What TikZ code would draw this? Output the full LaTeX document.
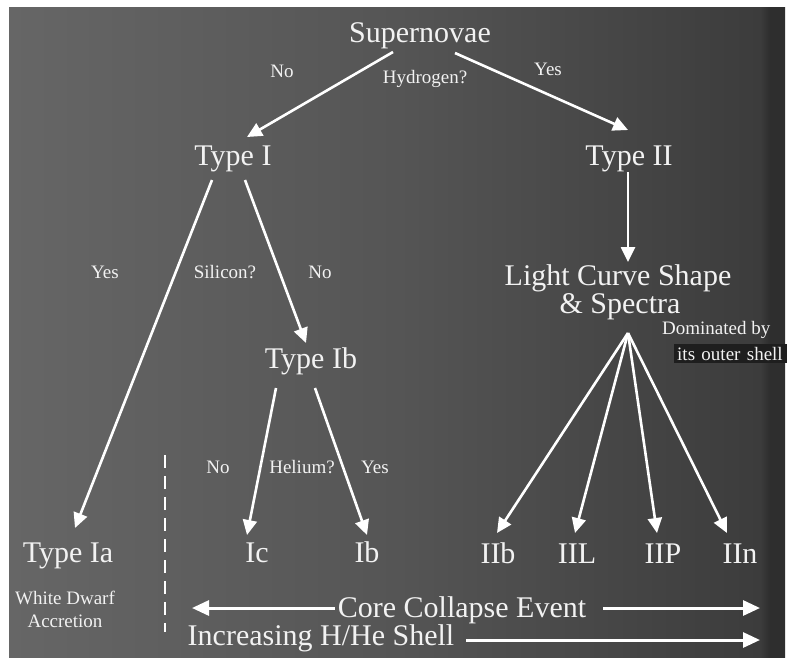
\documentclass[tikz,border=0pt]{standalone}
\usepackage{fontspec}
\setmainfont{Liberation Serif}
\usetikzlibrary{arrows.meta,calc}
\definecolor{bgA}{HTML}{666666}
\definecolor{bgB}{HTML}{555555}
\definecolor{bgC}{HTML}{3C3C3C}
\definecolor{bgD}{HTML}{2E2E2E}
\definecolor{txt}{HTML}{F2F2F2}
\definecolor{boxbg}{HTML}{1E1E1E}
\pgfdeclarehorizontalshading{bgshade}{100bp}{color(0bp)=(bgA); color(25bp)=(bgA); color(50bp)=(bgB); color(73.4bp)=(bgC); color(74bp)=(bgD); color(100bp)=(bgD)}
\begin{document}
\begin{tikzpicture}[x=1pt,y=-1pt,
  lbl/.style={text=txt, inner sep=0pt, font=\fontsize{30}{32}\selectfont, anchor=base},
  sml/.style={text=txt, inner sep=0pt, font=\fontsize{19}{21}\selectfont, anchor=base},
  arr/.style={draw=white, line width=2.6pt, -{Triangle[length=15pt,width=14pt]}},
  bigarr/.style={draw=white, line width=3pt, -{Triangle[length=17pt,width=15pt]}},
  divider/.style={draw=white, line width=2.4pt, dash pattern=on 13pt off 8pt}]
\useasboundingbox (0,0) rectangle (787,657);
\fill[white] (0,0) rectangle (787,657);
\shade[shading=bgshade] (9,7) rectangle (785,657);

% main labels
\node[lbl] (sn) at (420,42) {Supernovae};
\node[lbl] (t1) at (233,165) {Type I};
\node[lbl] (t2) at (629,165) {Type II};
\node[lbl] (lc1) at (618,285) {Light Curve Shape};
\node[lbl] (lc2) at (620,313) {\& Spectra};
\node[lbl] (tIb) at (311,368) {Type Ib};
\node[lbl] (tIa) at (68,562) {Type Ia};
\node[lbl] (Ic) at (257,562) {Ic};
\node[lbl] (Ib) at (367,562) {Ib};
\node[lbl] (IIb) at (498,563) {IIb};
\node[lbl] (IIL) at (577,563) {IIL};
\node[lbl] (IIP) at (663,563) {IIP};
\node[lbl] (IIn) at (740,563) {IIn};
\node[lbl] (core) at (462,617) {Core Collapse Event};
\node[lbl] (incr) at (321,645) {Increasing H/He Shell};

% small labels
\node[sml] (no1) at (282,77) {No};
\node[sml] (hyd) at (425,83) {Hydrogen?};
\node[sml] (yes1) at (548,75) {Yes};
\node[sml] (yes2) at (105,278) {Yes};
\node[sml] (sil) at (225,278) {Silicon?};
\node[sml] (no2) at (320,278) {No};
\node[sml] (no3) at (218,473) {No};
\node[sml] (hel) at (302,473) {Helium?};
\node[sml] (yes3) at (375,473) {Yes};
\node[sml] (wd) at (65,604) {White Dwarf};
\node[sml] (acc) at (65,627) {Accretion};
\node[sml, anchor=base west] (dom) at (662,334) {Dominated by};
\node[sml, anchor=base west, fill=boxbg, inner xsep=3pt, inner ysep=3pt, text width=108pt, align=left] (shell) at (674,360) {its outer shell};

% connectors
\draw[arr] ($(sn.base)+(-27,10)$) -- ($(t1.base)+(14,-28)$);
\draw[arr] ($(sn.base)+(35,11)$) -- ($(t2.base)+(-1,-35)$);
\draw[arr] ($(t1.base)+(-21,15)$) -- ($(tIa.base)+(7,-34)$);
\draw[arr] ($(t1.base)+(12,15)$) -- ($(tIb.base)+(-5,-25)$);
\draw[arr] ($(t2.base)+(-1,7)$) -- ($(lc1.base)+(10,-23)$);
\draw[arr] ($(tIb.base)+(-35,20)$) -- ($(Ic.base)+(-10,-27)$);
\draw[arr] ($(tIb.base)+(4,20)$) -- ($(Ib.base)+(0,-27)$);
\coordinate (apex) at ($(lc2.base)+(8,20)$);
\draw[arr] (apex) -- ($(IIb.base)+(-1,-30)$);
\draw[arr] (apex) -- ($(IIL.base)+(-2,-30)$);
\draw[arr] (apex) -- ($(IIP.base)+(-6,-30)$);
\draw[arr] (apex) -- ($(IIn.base)+(-13,-30)$);

% bottom arrows
\coordinate (cl) at (192,608);
\coordinate (cr) at (760,608);
\coordinate (ir) at (760,640);
\draw[bigarr] ($(core.base west)+(-3,-9)$) -- (cl);
\draw[bigarr] ($(core.base east)+(17,-9)$) -- (cr);
\draw[bigarr] ($(incr.base east)+(12,-5)$) -- (ir);

% divider
\draw[divider] (165,455) -- (165,632);
\end{tikzpicture}
\end{document}
